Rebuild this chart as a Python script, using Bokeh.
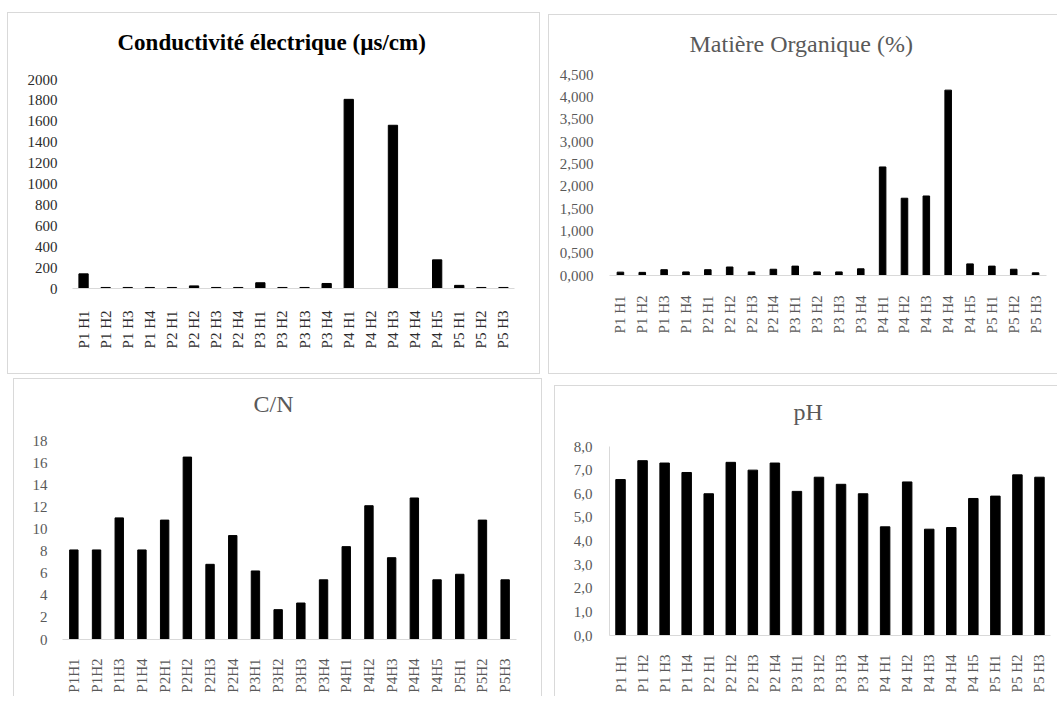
from bokeh.plotting import figure
from bokeh.models import FactorRange, Range1d, FixedTicker, Title
from bokeh.layouts import column, row
from bokeh.embed import file_html
from bokeh.resources import INLINE
import math

# ---------------- data ----------------
samples_spaced = ["P1 H1", "P1 H2", "P1 H3", "P1 H4", "P2 H1", "P2 H2", "P2 H3", "P2 H4",
                  "P3 H1", "P3 H2", "P3 H3", "P3 H4", "P4 H1", "P4 H2", "P4 H3", "P4 H4",
                  "P4 H5", "P5 H1", "P5 H2", "P5 H3"]
samples_compact = ["P1H1", "P1H2", "P1H3", "P1H4", "P2H1", "P2H2", "P2H3", "P2H4",
                   "P3H1", "P3H2", "P3H3", "P3H4", "P4H1", "P4H2", "P4H3", "P4H4",
                   "P4H5", "P5H1", "P5H2", "P5H3"]

conductivite = [140, 10, 10, 10, 10, 25, 10, 10, 55, 10, 10, 48, 1810, 0, 1562, 0, 274, 30, 10, 10]
matiere_org = [0.075, 0.07, 0.13, 0.08, 0.13, 0.19, 0.08, 0.14, 0.21, 0.08, 0.08, 0.15,
               2.43, 1.73, 1.78, 4.15, 0.26, 0.21, 0.14, 0.06]
c_n = [8.1, 8.1, 11.0, 8.1, 10.8, 16.5, 6.8, 9.4, 6.2, 2.7, 3.3, 5.4,
       8.4, 12.1, 7.4, 12.8, 5.4, 5.9, 10.8, 5.4]
ph = [6.6, 7.4, 7.3, 6.9, 6.0, 7.33, 7.0, 7.3, 6.1, 6.7, 6.4, 6.0,
      4.6, 6.5, 4.5, 4.57, 5.8, 5.9, 6.8, 6.7]

ce_ticks = [0, 200, 400, 600, 800, 1000, 1200, 1400, 1600, 1800, 2000]
ce_labels = ["0", "200", "400", "600", "800", "1000", "1200", "1400", "1600", "1800", "2000"]
mo_ticks = [0, 0.5, 1.0, 1.5, 2.0, 2.5, 3.0, 3.5, 4.0, 4.5]
mo_labels = ["0,000", "0,500", "1,000", "1,500", "2,000", "2,500", "3,000", "3,500", "4,000", "4,500"]
cn_ticks = [0, 2, 4, 6, 8, 10, 12, 14, 16, 18]
cn_labels = ["0", "2", "4", "6", "8", "10", "12", "14", "16", "18"]
ph_ticks = [0, 1, 2, 3, 4, 5, 6, 7, 8]
ph_labels = ["0,0", "1,0", "2,0", "3,0", "4,0", "5,0", "6,0", "7,0", "8,0"]

FONT = "Liberation Serif"
BORDER = "1px solid #d9d9d9"


def panel(title, cats, vals, ticks, labels, ymax, fw, fh, mb, margin, bar_w,
          title_offset, title_gap, title_color, title_style, text_color, borders,
          y_axis_line=False, ystandoff=15, xstandoff=20, title_size="24px"):
    p = figure(x_range=FactorRange(*cats), y_range=Range1d(0, ymax), title=None,
               frame_width=fw, frame_height=fh, output_backend="svg", toolbar_location=None,
               min_border_left=mb[0], min_border_right=mb[1],
               min_border_top=mb[2], min_border_bottom=mb[3],
               margin=margin, frame_align=False)
    # thin spacer between plot area and title
    p.add_layout(Title(text=" ", text_font_size="1px", standoff=title_gap), "above")
    p.add_layout(Title(text=title, align="left", offset=title_offset, standoff=4,
                       text_font=FONT, text_font_size=title_size, text_color=title_color,
                       text_font_style=title_style), "above")
    p.vbar(x=cats, top=vals, width=bar_w, color="black")
    p.xgrid.grid_line_color = None
    p.ygrid.grid_line_color = None
    p.outline_line_color = None
    p.background_fill_color = "white"
    p.border_fill_color = "white"
    p.styles = {("border-" + side): BORDER for side in borders}

    xa = p.xaxis[0]
    xa.axis_line_color = "#d9d9d9"
    xa.major_tick_line_color = None
    xa.minor_tick_line_color = None
    xa.major_tick_out = 0
    xa.major_label_orientation = math.pi / 2
    xa.major_label_text_font = FONT
    xa.major_label_text_font_size = "15px"
    xa.major_label_text_color = text_color
    xa.major_label_standoff = xstandoff

    ya = p.yaxis[0]
    ya.ticker = FixedTicker(ticks=ticks)
    ya.major_label_overrides = {t: l for t, l in zip(ticks, labels)}
    ya.axis_line_color = "#d9d9d9" if y_axis_line else None
    ya.major_tick_line_color = None
    ya.minor_tick_line_color = None
    ya.major_tick_out = 0
    ya.major_label_text_font = FONT
    ya.major_label_text_font_size = "15px"
    ya.major_label_text_color = text_color
    ya.major_label_standoff = ystandoff
    return p


p1 = panel("Conductivité électrique (µs/cm)", samples_spaced, conductivite, ce_ticks, ce_labels, 2000,
           440, 207, (64, 27, 66, 87), (5, 0, 0, 0), 0.42,
           45, 20, "#000000", "bold", "#2b2b2b", ["top", "left", "right", "bottom"],
           ystandoff=15, xstandoff=22, title_size="23px")
p2 = panel("Matière Organique (%)", samples_spaced, matiere_org, mo_ticks, mo_labels, 4.5,
           436, 199, (60, 12, 59, 100), (7, 0, 0, 8), 0.30,
           80, 13, "#595959", "normal", "#595959", ["top", "left", "bottom"],
           ystandoff=16, xstandoff=20)
p3 = panel("C/N", samples_compact, c_n, cn_ticks, cn_labels, 18,
           452, 198, (48, 27, 61, 58), (4, 0, 0, 6), 0.37,
           191, 19, "#595959", "normal", "#595959", ["top", "left", "right"],
           ystandoff=15, xstandoff=19)
p4 = panel("pH", samples_spaced, ph, ph_ticks, ph_labels, 8,
           440, 188, (54, 8, 60, 62), (11, 0, 0, 12), 0.43,
           184, 17, "#595959", "normal", "#595959", ["top", "left"],
           y_axis_line=True, ystandoff=17, xstandoff=19)

layout = column(row(p1, p2), row(p3, p4), margin=(7, 0, 0, 7))

open("out.html", "w").write(file_html(layout, INLINE))
